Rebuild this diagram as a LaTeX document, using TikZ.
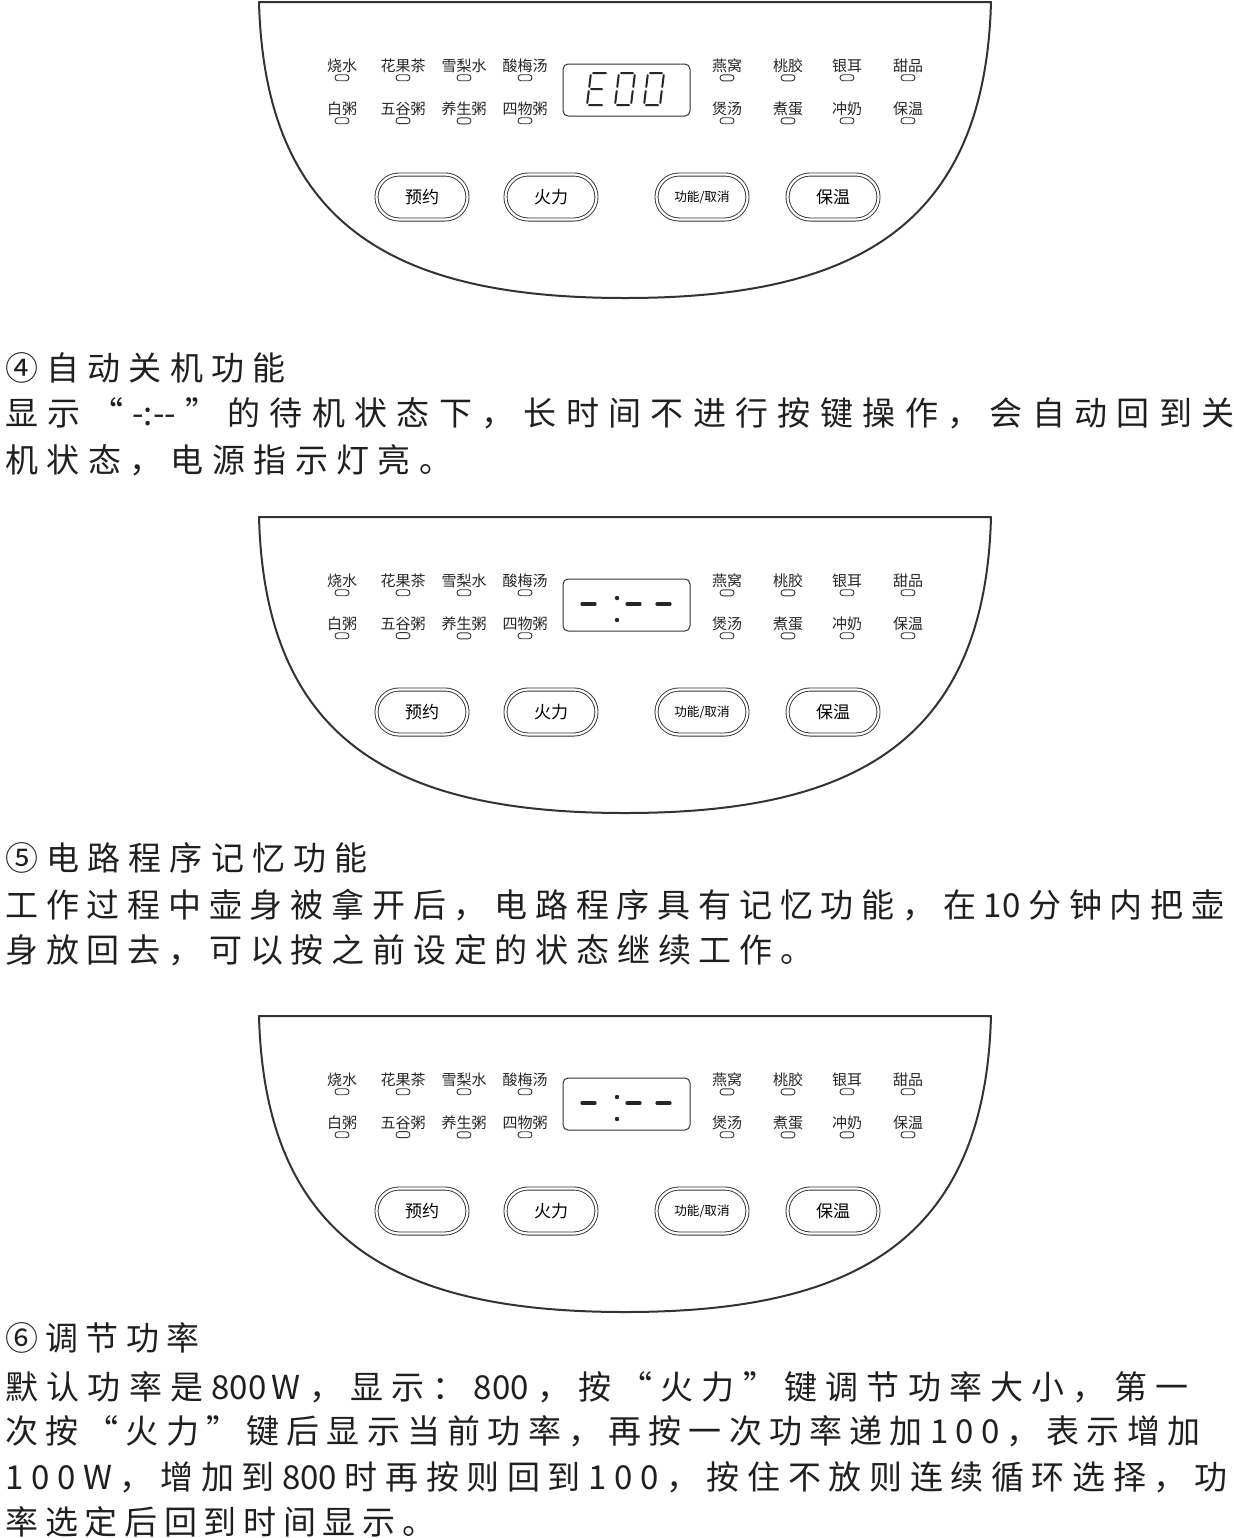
\documentclass[tikz,border=0pt]{standalone}
\usepackage{fontspec}
\setmainfont{Noto Sans CJK SC}
\usetikzlibrary{positioning}
\makeatletter
\newcommand\spreadline[2]{\makebox[\dimexpr #1pt/2\relax][s]{\@tfor\spch:=#2\do{\spch\hfil}\unskip}}
\makeatother

\begin{document}
\begin{tikzpicture}[x=0.5pt,y=-0.5pt,line cap=round,line join=round,
  panel/.style={draw=black!80,line width=1pt},
  lbl/.style={inner sep=0pt,font=\fontsize{7.5pt}{8pt}\selectfont,text=black!85},
  led/.style={draw=black!80,line width=0.45pt,minimum width=7pt,minimum height=3pt,inner sep=0pt,rounded corners=1.5pt},
  disp/.style={draw=black!80,line width=0.5pt,minimum width=63.5pt,minimum height=26pt,inner sep=0pt,rounded corners=2.5pt},
  seg/.style={draw=black!85,line width=1pt},
  dashseg/.style={draw=black!85,line width=1.6pt},
  btn/.style={draw=black!80,line width=0.45pt,double,double distance=1.1pt,minimum width=45.5pt,minimum height=22.5pt,inner sep=0pt,rounded corners=11.25pt,font=\fontsize{8.5pt}{9pt}\selectfont},
  body/.style={anchor=west,inner sep=0pt,font=\fontsize{16.5pt}{18pt}\selectfont,text=black!88}]
\useasboundingbox (0,0) rectangle (1234,1538);
% control panels
\foreach \p/\dy in {a/0,b/515,c/1014}{
  \begin{scope}[shift={(0,\dy)}]
    \draw[panel] (259,2) -- (991,2) .. controls (985,230) and (850,298) .. (625,298) .. controls (400,298) and (265,230) .. cycle;
    \foreach \x/\ta/\tb [count=\i] in {342/烧水/白粥,403/花果茶/五谷粥,464/雪梨水/养生粥,525/酸梅汤/四物粥,727/燕窝/煲汤,788/桃胶/煮蛋,847/银耳/冲奶,908/甜品/保温}{
      \node[lbl] (up-\p-\i) at (\x,66) {\ta};
      \node[led,below=0.5pt of up-\p-\i] (upled-\p-\i) {};
      \node[lbl] (dn-\p-\i) at (\x,109) {\tb};
      \node[led,below=0.5pt of dn-\p-\i] (dnled-\p-\i) {};
    }
    \node[disp] (disp-\p) at (626.5,90) {};
    \foreach \x/\t [count=\i] in {422/预约,551/火力,702/{\fontsize{6.3pt}{7pt}\selectfont 功能/取消},833/保温}
      \node[btn] (btn-\p-\i) at (\x,197) {\t};
  \end{scope}
}
% display E00
\begin{scope}[shift={(587,105)},xslant=0.125]
  \draw[seg] (2,-32) -- (15,-32) (0,-30) -- (0,-18) (2,-16) -- (13,-16) (0,-14) -- (0,-2) (2,0) -- (15,0);
\end{scope}
\foreach \x in {615,644}{
  \begin{scope}[shift={(\x,105)},xslant=0.125]
    \draw[seg] (2,-32) -- (14,-32) (16,-30) -- (16,-18) (16,-14) -- (16,-2) (2,0) -- (14,0) (0,-30) -- (0,-18) (0,-14) -- (0,-2);
  \end{scope}
}
% display -:--
\foreach \dy in {515,1014}{
  \begin{scope}[shift={(0,\dy)}]
    \draw[dashseg] (582,89) -- (595,89) (627,89) -- (640,89) (657,89) -- (670,89);
    \fill[black!85] (617,83) circle (1.1pt) (617,105) circle (1.1pt);
  \end{scope}
}
% text
\node[body] (h4) at (5,368) {\spreadline{280}{④自动关机功能}};
\node[body] (t4a) at (5,413) {\spreadline{1229}{显示“{-:-{}-}”的待机状态下，长时间不进行按键操作，会自动回到关}};
\node[body] (t4b) at (5,460) {\spreadline{447}{机状态，电源指示灯亮。}};
\node[body] (h5) at (5,858) {\spreadline{362}{⑤电路程序记忆功能}};
\node[body] (t5a) at (5,905) {\spreadline{1219}{工作过程中壶身被拿开后，电路程序具有记忆功能，在{10}分钟内把壶}};
\node[body] (t5b) at (5,950) {\spreadline{808}{身放回去，可以按之前设定的状态继续工作。}};
\node[body] (h6) at (5,1338) {\spreadline{194}{⑥调节功率}};
\node[body] (t6a) at (5,1387) {\spreadline{1183}{默认功率是{800\,W}，显示：{800}，按“火力”键调节功率大小，第一}};
\node[body] (t6b) at (5,1431) {\spreadline{1195}{次按“火力”键后显示当前功率，再按一次功率递加100，表示增加}};
\node[body] (t6c) at (5,1477) {\spreadline{1222}{100W，增加到{800}时再按则回到100，按住不放则连续循环选择，功}};
\node[body] (t6d) at (5,1522) {\spreadline{430}{率选定后回到时间显示。}};
\end{tikzpicture}
\end{document}
